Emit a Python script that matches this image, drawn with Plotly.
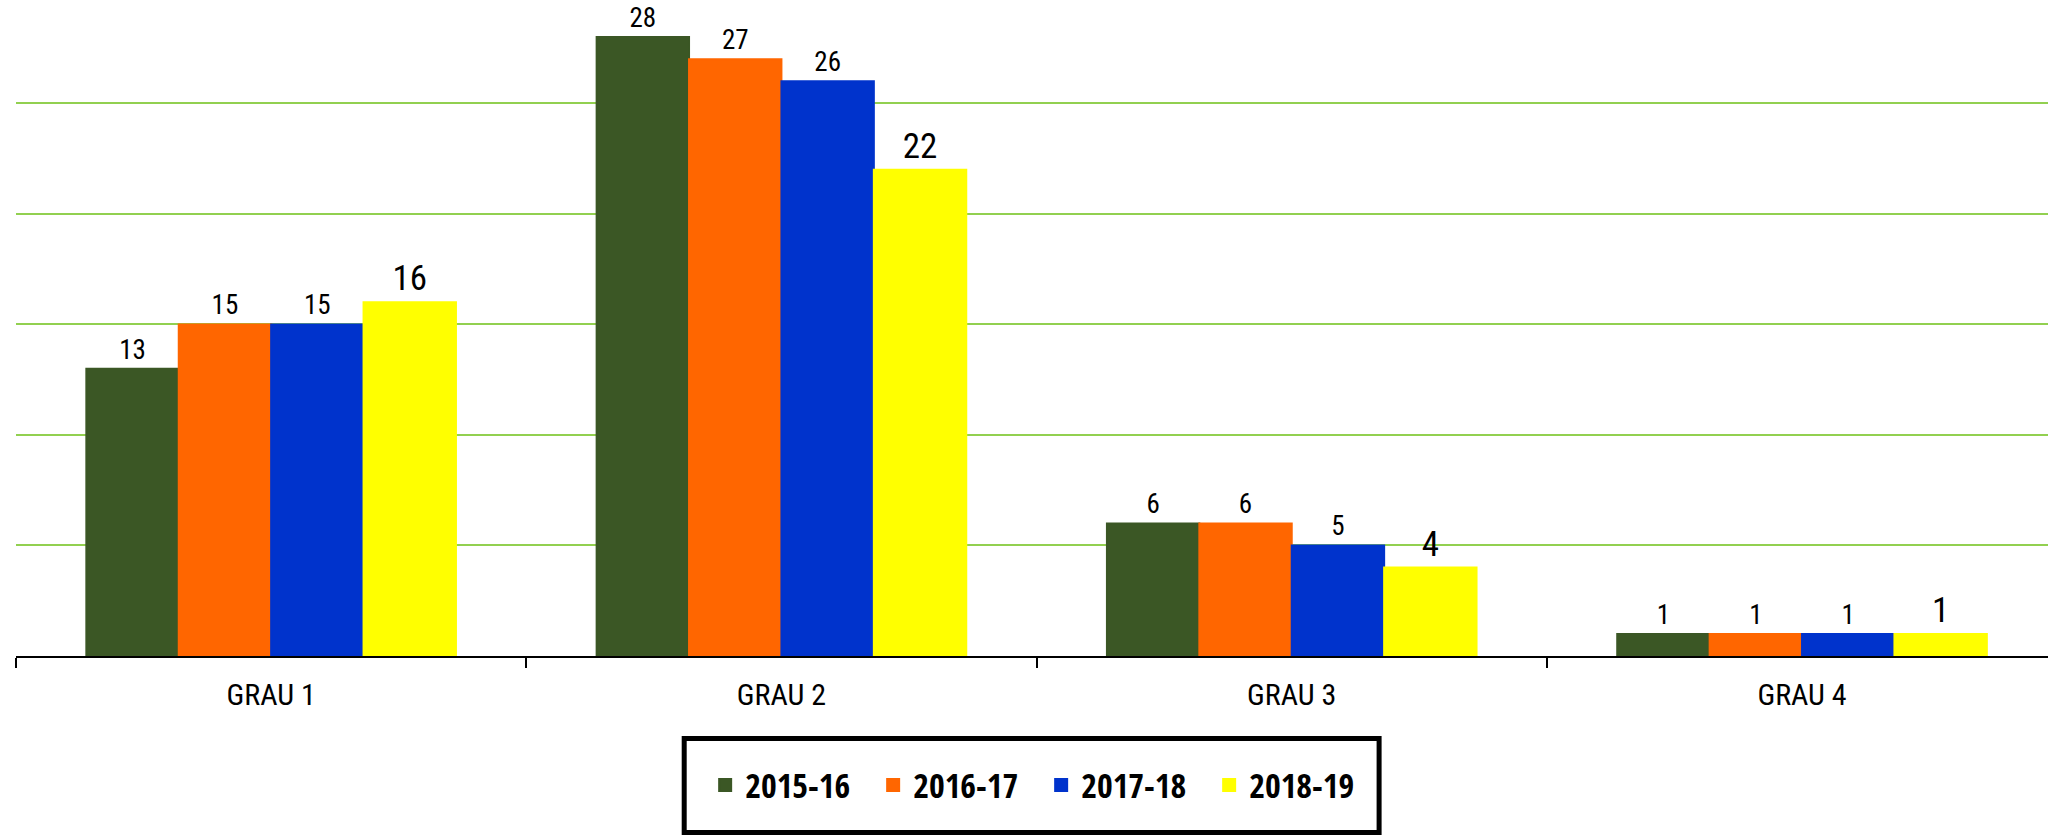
import plotly.graph_objects as go

categories = ["GRAU 1", "GRAU 2", "GRAU 3", "GRAU 4"]
series_names = ["2015-16", "2016-17", "2017-18", "2018-19"]
v2015 = [13, 28, 6, 1]
v2016 = [15, 27, 6, 1]
v2017 = [15, 26, 5, 1]
v2018 = [16, 22, 4, 1]
values = [v2015, v2016, v2017, v2018]
colors = ["#3B5725", "#FF6600", "#0033CC", "#FFFF00"]
label_sizes = [27, 27, 27, 35]

FONT = "Roboto Condensed, DejaVu Sans Condensed, sans-serif"
LEGEND_FONT = "Open Sans Condensed, Roboto Condensed, DejaVu Sans Condensed, sans-serif"

# the page body margin is removed below, so the figure starts at page (0, 0)
OFF = 0
W, H = 2048, 837
plot_left_page, plot_bottom_page = 15.7, 655.6
px_per_unit = 22.09

l = plot_left_page - OFF
r = OFF
b = H - (plot_bottom_page - OFF)
plot_h = plot_bottom_page - OFF
plot_w = W - l - r
ytop = plot_h / px_per_unit


def py(page_y):
    return (plot_h - (page_y - OFF)) / plot_h


def px(page_x):
    return (page_x - OFF - l) / plot_w


fig = go.Figure()
for name, vals, col, ls in zip(series_names, values, colors, label_sizes):
    fig.add_trace(go.Bar(
        x=categories, y=vals, name=name,
        marker=dict(color=col, line=dict(width=2, color=col)),
        text=[str(v) for v in vals], textposition="outside",
        textfont=dict(family=FONT, size=ls, color="black"),
        cliponaxis=False,
    ))

fig.update_layout(
    width=W, height=H,
    margin=dict(l=l, r=r, t=0, b=b, autoexpand=False),
    paper_bgcolor="white", plot_bgcolor="white",
    barmode="group", bargap=0.2757, bargroupgap=0,
    font=dict(family=FONT, color="black"),
    showlegend=True,
    legend=dict(
        orientation="h", x=px(1041), xanchor="center", y=py(785), yanchor="middle",
        font=dict(family=LEGEND_FONT, size=34, color="black", weight="bold"),
        entrywidth=123, entrywidthmode="pixels",
        bgcolor="rgba(0,0,0,0)", borderwidth=0,
    ),
    xaxis=dict(
        range=[-0.5, 3.482], showline=True, linecolor="black", linewidth=2,
        ticks="outside", ticklen=10, tickwidth=2, tickcolor="black",
        tickson="boundaries", showgrid=False, ticklabelstandoff=11,
        tickfont=dict(family=FONT, size=30, color="black"),
    ),
    yaxis=dict(
        range=[0, ytop], showticklabels=False, showline=False, zeroline=False,
        showgrid=True, gridcolor="#92D050", gridwidth=2, dtick=5, tick0=0,
    ),
    shapes=[dict(
        type="rect", xref="paper", yref="paper",
        x0=px(684), x1=px(1379), y0=py(832), y1=py(738),
        line=dict(color="black", width=5), fillcolor="rgba(0,0,0,0)",
    )],
)

fig.write_html("out.html", config={"displayModeBar": False},
               post_script="document.body.style.margin='0';")
